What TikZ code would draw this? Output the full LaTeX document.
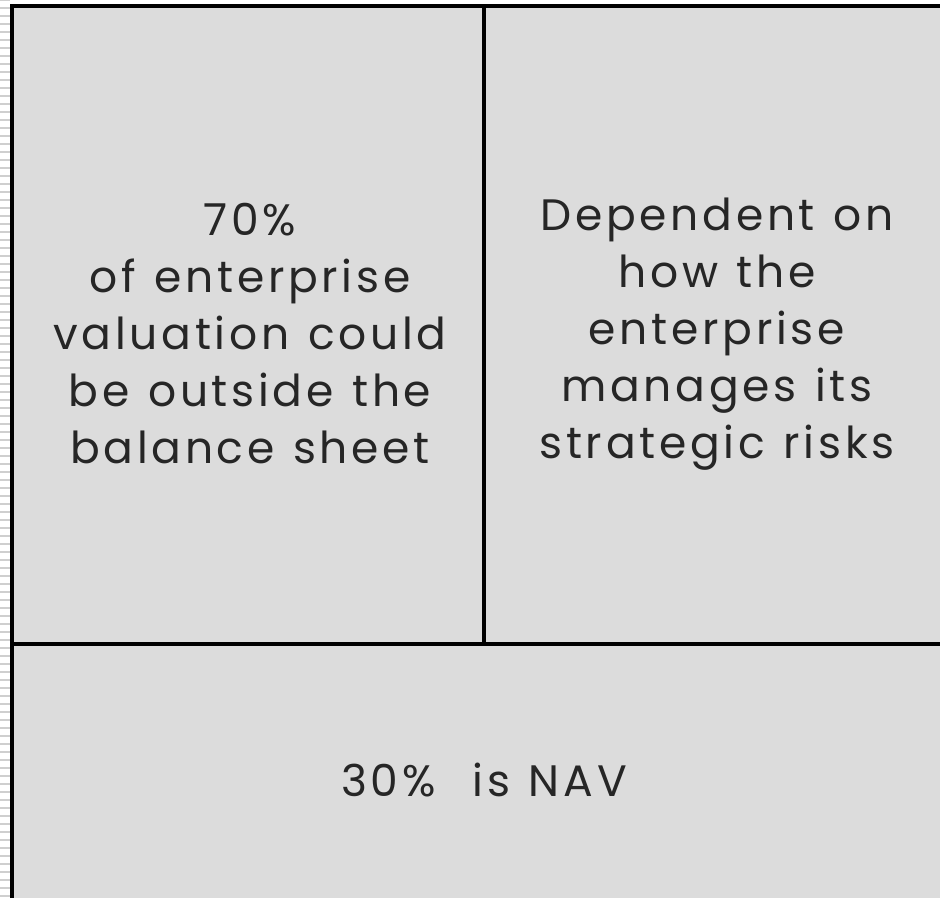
\documentclass[tikz,border=0pt]{standalone}
\usepackage{fontspec}
\setmainfont{Poppins}[LetterSpace=8.5,WordSpace=1.2]
\usepackage{tikz}
\usetikzlibrary{positioning}

\definecolor{panel}{HTML}{DCDCDC}
\definecolor{rule}{HTML}{CFCFCF}

\tikzset{
  label text/.style={align=center, font=\fontsize{44}{57}\selectfont, text=black!85},
  frame/.style={line width=3.5pt, black}
}

\begin{document}
\begin{tikzpicture}[x=1pt,y=1pt]
  \useasboundingbox (0,0) rectangle (940,898);
  % ruled strip on the left
  \foreach \y in {2,10,...,898}
    \draw[rule, line width=1.5pt] (0,\y) -- (10,\y);
  % grey panels
  \fill[panel] (12,0) rectangle (940,892);
  % frame and dividers
  \draw[frame] (12,0) -- (12,892) -- (942,892);
  \draw[frame] (484,892) -- (484,254);
  \draw[frame] (12,254) -- (942,254);
  % texts
  \node[label text] (left) at (250,564) {70\%\\of enterprise\\valuation could\\be outside the\\balance sheet};
  \node[label text] (right) at (717,564) {Dependent on\\how the\\enterprise\\manages its\\strategic risks};
  \node[label text] (nav) at (484,118) {30\%\ \ is NAV};
\end{tikzpicture}
\end{document}
